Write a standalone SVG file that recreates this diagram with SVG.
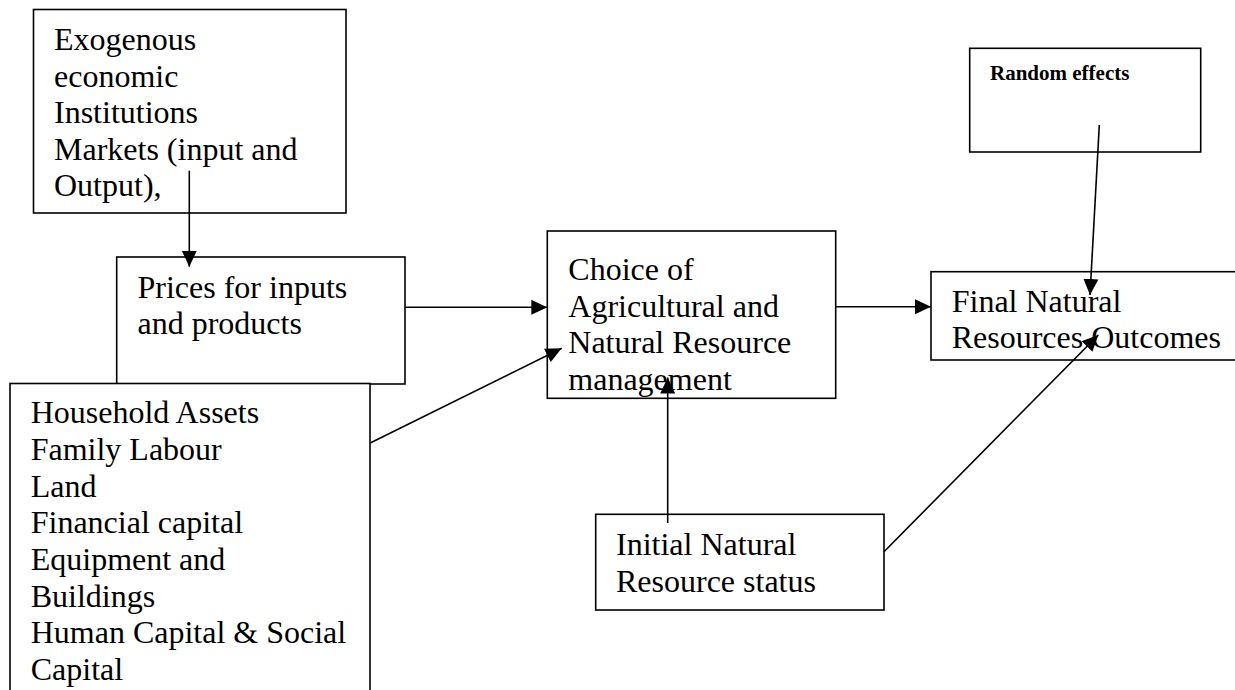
<svg xmlns="http://www.w3.org/2000/svg" width="1235" height="690" viewBox="0 0 1235 690">
  <style>
    .box { fill: #fff; stroke: #000; stroke-width: 1.6; }
    .t { font-family: "Liberation Serif", "Times New Roman", serif; font-size: 32px; fill: #000; }
    .tb { font-family: "Liberation Serif", "Times New Roman", serif; font-size: 21px; font-weight: bold; fill: #000; }
    .c { stroke: #000; stroke-width: 1.6; fill: none; marker-end: url(#ah); }
  </style>
  <defs>
    <marker id="ah" markerUnits="userSpaceOnUse" markerWidth="16" markerHeight="16" viewBox="0 0 16 16" refX="16" refY="8" orient="auto">
      <path d="M0,0.5 L16,8 L0,15.5 Z" fill="#000"/>
    </marker>
  </defs>
  <rect width="1235" height="690" fill="#fff"/>

  <g id="exogenous">
    <rect class="box" x="33.5" y="9.5" width="312.5" height="203.5"/>
    <text class="t" x="54" y="50">Exogenous</text>
    <text class="t" x="54" y="86.5">economic</text>
    <text class="t" x="54" y="123">Institutions</text>
    <text class="t" x="54" y="159.5">Markets (input and</text>
    <text class="t" x="54" y="196">Output),</text>
  </g>

  <g id="prices">
    <rect class="box" x="116.7" y="257" width="288.3" height="127"/>
    <text class="t" x="137.5" y="297.5">Prices for inputs</text>
    <text class="t" x="137.5" y="334">and products</text>
  </g>

  <g id="household">
    <rect class="box" x="10" y="383.5" width="360" height="320"/>
    <text class="t" x="30.7" y="423.3">Household Assets</text>
    <text class="t" x="30.7" y="460">Family Labour</text>
    <text class="t" x="30.7" y="496.7">Land</text>
    <text class="t" x="30.7" y="533.3">Financial capital</text>
    <text class="t" x="30.7" y="570">Equipment and</text>
    <text class="t" x="30.7" y="606.7">Buildings</text>
    <text class="t" x="30.7" y="643.3">Human Capital &amp; Social</text>
    <text class="t" x="30.7" y="680">Capital</text>
  </g>

  <g id="choice">
    <rect class="box" x="547.3" y="231" width="288.4" height="167.3"/>
    <text class="t" x="568.3" y="280">Choice of</text>
    <text class="t" x="568.3" y="316.7">Agricultural and</text>
    <text class="t" x="568.3" y="353.3">Natural Resource</text>
    <text class="t" x="568.3" y="390">management</text>
  </g>

  <g id="random">
    <rect class="box" x="969.7" y="48.3" width="231" height="103.7"/>
    <text class="tb" x="990" y="80">Random effects</text>
  </g>

  <g id="final">
    <rect class="box" x="931" y="271.7" width="320" height="88.3"/>
    <text class="t" x="951.7" y="311.7">Final Natural</text>
    <text class="t" x="951.7" y="348.3">Resources Outcomes</text>
  </g>

  <g id="initial">
    <rect class="box" x="595.7" y="514.3" width="288.3" height="95.7"/>
    <text class="t" x="616" y="555">Initial Natural</text>
    <text class="t" x="616" y="591.7">Resource status</text>
  </g>

  <g id="connectors">
    <line class="c" x1="189.3" y1="170.7" x2="189.3" y2="266.7"/>
    <line class="c" x1="405" y1="307.3" x2="547.3" y2="307.3"/>
    <line class="c" x1="370.7" y1="442.7" x2="561.7" y2="348.3"/>
    <line class="c" x1="667.7" y1="523" x2="667.7" y2="377.5"/>
    <line class="c" x1="835.7" y1="306.7" x2="931" y2="306.7"/>
    <line class="c" x1="1099.3" y1="125" x2="1090" y2="295"/>
    <line class="c" x1="884" y1="551.7" x2="1098.3" y2="335"/>
  </g>
</svg>
